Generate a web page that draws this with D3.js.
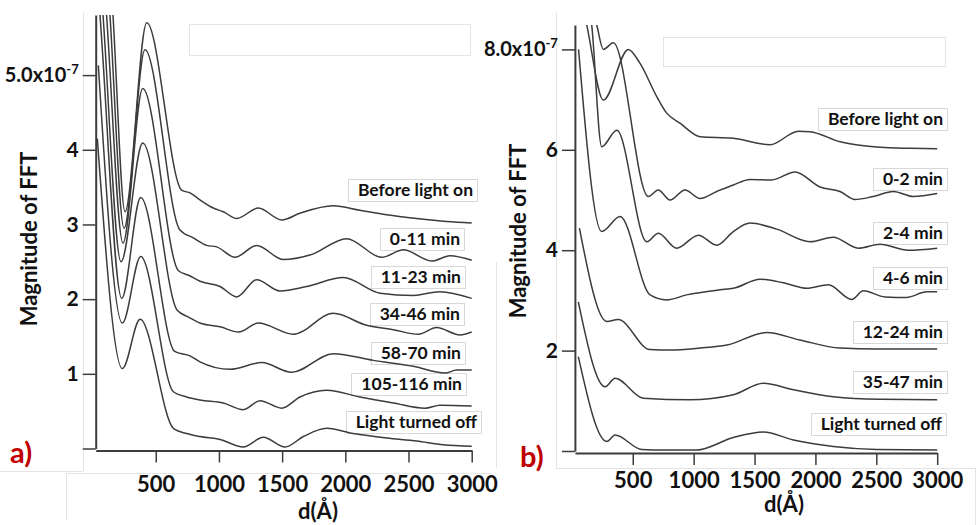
<!DOCTYPE html>
<html>
<head>
<meta charset="utf-8">
<script src="https://cdn.jsdelivr.net/npm/d3@7"></script>
<style>
body { margin:0; background:#fff; }
text { font-family: Lato, "Open Sans", sans-serif; font-weight: bold; fill:#111; }
</style>
</head>
<body>
<script>
// ---- data: d (Angstrom) vs magnitude of FFT (x1e-7) ----
var xTicks = [500, 1000, 1500, 2000, 2500, 3000];
var yTicksA = [0, 1, 2, 3, 4, 5];
var yTicksB = [0, 2, 4, 6, 8];

var labelsA = ["Before light on", "0-11 min", "11-23 min", "34-46 min", "58-70 min", "105-116 min", "Light turned off"];
var labelsB = ["Before light on", "0-2 min", "2-4 min", "4-6 min", "12-24 min", "35-47 min", "Light turned off"];

var beforeA = [[25,9.6],[162,5.8],[257,3.17],[429,5.70],[705,3.46],[775,3.42],[850,3.33],[956,3.22],[1035,3.17],[1141,3.08],[1312,3.22],[1497,3.06],[1641,3.15],[1905,3.25],[2116,3.19],[2327,3.13],[2565,3.08],[2802,3.04],[3000,3.02]];
var min0_11 = [[25,8.7],[138,5.8],[249,2.95],[415,5.34],[690,2.93],[797,2.82],[903,2.72],[982,2.70],[1127,2.56],[1299,2.72],[1509,2.53],[1720,2.59],[2011,2.81],[2288,2.56],[2459,2.66],[2683,2.51],[2828,2.58],[3000,2.52]];
var min11_23 = [[25,7.82],[111,5.8],[241,2.75],[397,4.82],[680,2.38],[760,2.32],[850,2.24],[1009,2.17],[1141,2.03],[1299,2.26],[1483,2.11],[1694,2.17],[1984,2.29],[2274,2.08],[2538,2.05],[2749,2.10],[3000,2.01]];
var min34_46 = [[25,7.15],[83,5.8],[225,2.50],[397,4.09],[670,1.85],[760,1.76],[850,1.68],[1009,1.63],[1154,1.56],[1312,1.68],[1589,1.53],[1905,1.81],[2169,1.65],[2380,1.59],[2578,1.53],[2723,1.62],[2907,1.52],[3000,1.56]];
var min58_70 = [[25,6.55],[59,5.8],[231,2.01],[381,3.36],[650,1.30],[771,1.24],[850,1.16],[1088,1.06],[1339,1.15],[1576,1.02],[1905,1.27],[2222,1.18],[2538,1.10],[2789,1.01],[2881,1.05],[3000,1.05]];
var min105_116 = [[46,5.13],[236,1.68],[381,2.57],[640,0.76],[745,0.69],[850,0.65],[1035,0.61],[1193,0.52],[1325,0.64],[1497,0.54],[1641,0.69],[1853,0.78],[2116,0.69],[2380,0.61],[2630,0.54],[2749,0.58],[3000,0.57]];
var offA = [[38,4.15],[236,1.07],[376,1.73],[640,0.27],[745,0.20],[850,0.16],[1009,0.12],[1193,0.02],[1351,0.15],[1523,0.02],[1668,0.16],[1853,0.27],[2063,0.20],[2327,0.14],[2565,0.10],[2775,0.05],[3000,0.03]];

var beforeB = [[25,9.55],[122,8.49],[259,6.99],[464,8.0],[560,7.72],[697,7.06],[779,6.73],[888,6.53],[1053,6.26],[1326,6.23],[1627,6.10],[1860,6.37],[1956,6.36],[2202,6.16],[2530,6.05],[2777,6.03],[3000,6.02]];
var min0_2 = [[25,10.1],[204,8.49],[259,8.0],[341,8.13],[628,5.07],[710,5.20],[806,5.0],[929,5.20],[1053,5.03],[1190,5.17],[1326,5.30],[1463,5.41],[1641,5.40],[1833,5.56],[2038,5.26],[2202,5.17],[2325,5.01],[2475,5.07],[2640,5.17],[2804,5.07],[3000,5.13]];
var min2_4 = [[25,10.0],[163,8.49],[245,6.06],[369,6.39],[615,4.17],[710,4.34],[861,4.04],[1039,4.30],[1190,4.10],[1326,4.37],[1463,4.54],[1682,4.42],[1956,4.17],[2147,4.26],[2352,4.04],[2530,4.12],[2763,4.00],[3000,4.04]];
var min4_6 = [[55,8.0],[245,4.37],[396,4.67],[642,3.11],[779,3.01],[943,3.11],[1217,3.21],[1326,3.24],[1545,3.42],[1737,3.35],[1929,3.24],[2106,3.31],[2298,3.02],[2393,3.19],[2571,3.07],[2749,3.06],[2913,3.17],[3000,3.17]];
var min12_24 = [[62,4.44],[287,2.58],[380,2.62],[640,2.02],[806,2.01],[1053,2.05],[1272,2.11],[1600,2.36],[1873,2.21],[2202,2.05],[2503,2.03],[3000,2.03]];
var min35_47 = [[53,2.97],[273,1.28],[355,1.45],[587,1.05],[970,1.02],[1326,1.12],[1572,1.35],[1819,1.22],[2147,1.08],[2530,1.03],[3000,1.02]];
var offB = [[53,1.88],[287,0.19],[355,0.32],[574,0.03],[751,0.02],[1025,0.02],[1326,0.27],[1572,0.38],[1819,0.22],[2147,0.09],[2503,0.03],[3000,0.02]];

var seriesA = [beforeA, min0_11, min11_23, min34_46, min58_70, min105_116, offA];
var seriesB = [beforeB, min0_2, min2_4, min4_6, min12_24, min35_47, offB];

// ---- page ----
var W = 977, H = 525;
var svg = d3.select("body").append("svg")
.attr("width", W)
.attr("height", H);

// faint frames left over from the original figure
var faint = "#e4e4e4";
function fline(x1, y1, x2, y2){
	svg.append("line").attr("x1",x1).attr("y1",y1).attr("x2",x2).attr("y2",y2)
	.attr("stroke",faint).attr("stroke-width",1);
}
svg.append("rect").attr("x",189.5).attr("y",24.5).attr("width",281).attr("height",31)
.attr("fill","none").attr("stroke",faint);
svg.append("rect").attr("x",663.5).attr("y",37.5).attr("width",282).attr("height",29)
.attr("fill","none").attr("stroke",faint);
fline(83.5,13,83.5,471); fline(0,471.5,83,471.5);
fline(66.5,473,66.5,520); fline(66,473.5,492,473.5);
fline(556.5,12,556.5,468); fline(556,468.5,975,468.5); fline(975.5,468,975.5,525);
fline(496.5,262,496.5,468);

var lineColor = "#3c3c3c";

// draws one panel; lay holds the pixel box and the label nudges
function panel(id, series, labels, yTicks, lay){
	var x = d3.scaleLinear().domain([25, 3000]).range([lay.x0, lay.x1]);
	var y = d3.scaleLinear().domain([0, lay.yMax]).range([lay.y0, lay.y1]);
	var g = svg.append("g").attr("class","panel-"+id);

	// curve labels with faint boxes (drawn first so curves pass over the boxes)
	var lab = g.append("g").attr("class","labels");
	labels.forEach(function(name, i){
		var last = series[i][series[i].length-1];
		var box = lab.append("rect");
		var t = lab.append("text")
		.attr("x", lay.labelRight[i])
		.attr("y", y(last[1]) - lay.labelUp[i])
		.attr("text-anchor","end")
		.attr("font-size", 17.5)
		.text(name);
		var b = t.node().getBBox();
		box
		.attr("x", Math.round(b.x - 10) + 0.5)
		.attr("y", Math.round(b.y) + 0.5)
		.attr("width", Math.round(b.width + 14))
		.attr("height", Math.round(b.height + 1))
		.attr("fill","#fff")
		.attr("stroke","#d8d8d8");
	});

	// clip curves to the axis box
	svg.append("clipPath").attr("id","clip-"+id)
	.append("rect")
	.attr("x", lay.x0).attr("y", lay.y1)
	.attr("width", lay.x1 - lay.x0 + 2).attr("height", lay.y0 - lay.y1 + 4);

	var line = d3.line()
	.x(function(d){ return x(d[0]); })
	.y(function(d){ return y(d[1]); })
	.curve(d3.curveMonotoneX);

	g.append("g").attr("clip-path","url(#clip-"+id+")")
	.selectAll("path.curve")
	.data(series)
	.enter().append("path")
	.attr("class","curve")
	.attr("d", line)
	.attr("fill","none")
	.attr("stroke", lineColor)
	.attr("stroke-width", 1.5);

	// y axis
	var yAxis = g.append("g")
	.attr("transform","translate(" + lay.x0 + ",0)")
	.call(d3.axisLeft(y).tickValues(yTicks).tickSize(13).tickSizeOuter(0).tickPadding(4)
		.tickFormat(function(d){ return d === 0 ? "" : String(d); }));
	yAxis.select(".domain").attr("stroke", lineColor).attr("stroke-width", 2);
	yAxis.selectAll(".tick line").attr("stroke", lineColor).attr("stroke-width", 1.5);
	yAxis.selectAll(".tick text").attr("font-size", 21).attr("fill","#111");
	// top tick carries the exponent
	var topT = yTicks[yTicks.length-1];
	yAxis.selectAll(".tick text").filter(function(d){ return d === topT; })
	.attr("font-size", 20)
	.text(null)
	.call(function(t){
		t.append("tspan").text(topT.toFixed(1) + "x10");
		t.append("tspan").attr("font-size", 13).attr("dy", -8).text("-7");
	});

	// x axis
	var xAxis = g.append("g")
	.attr("transform","translate(0," + lay.xAxisY + ")")
	.call(d3.axisBottom(x).tickValues(xTicks).tickSize(12).tickSizeOuter(0).tickPadding(lay.xPad)
		.tickFormat(function(d){ return String(d); }));
	xAxis.select(".domain").attr("stroke", lineColor).attr("stroke-width", 2);
	xAxis.selectAll(".tick line").attr("stroke", lineColor).attr("stroke-width", 1.5);
	xAxis.selectAll(".tick text").attr("font-size", 22).attr("fill","#111");

	// axis titles
	g.append("text")
	.attr("transform","translate(" + lay.yTitleX + "," + lay.yTitleY + ") rotate(-90)")
	.attr("text-anchor","middle")
	.attr("font-size", 22)
	.text("Magnitude of FFT");
	g.append("text")
	.attr("x", lay.xTitleX).attr("y", lay.xTitleY)
	.attr("text-anchor","middle")
	.attr("font-size", 22)
	.text("d(\u00C5)");

	// panel letter
	g.append("text")
	.attr("x", lay.tagX).attr("y", lay.tagY)
	.attr("font-size", 29)
	.style("fill","#c00000")
	.text(id + ")");
}

panel("a", seriesA, labelsA, yTicksA, {
	x0: 95.7, x1: 471.7, y0: 448.5, y1: 15, yMax: 5.805, xAxisY: 450.5, xPad: 14,
	yTitleX: 37, yTitleY: 239, xTitleX: 318, xTitleY: 519,
	labelRight: [473, 460, 461, 460, 461, 462, 477],
	labelUp: [26.7, 15, 15, 12.4, 11.3, 15.7, 18],
	tagX: 10, tagY: 463
});
panel("b", seriesB, labelsB, yTicksB, {
	x0: 574.9, x1: 937.2, y0: 451, y1: 25, yMax: 8.486, xAxisY: 453, xPad: 7,
	yTitleX: 526, yTitleY: 231, xTitleX: 784, xTitleY: 512,
	labelRight: [943, 943, 943, 943, 943, 943, 942],
	labelUp: [24, 8.3, 9.3, 7.7, 11.3, 12, 20],
	tagX: 520, tagY: 467
});
</script>
</body>
</html>
